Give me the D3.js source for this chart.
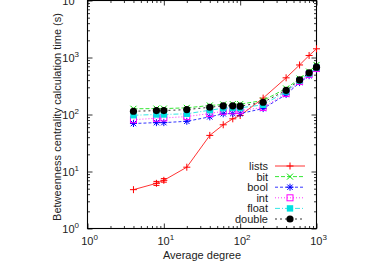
<!DOCTYPE html>
<html>
<head>
<meta charset="utf-8">
<script src="https://cdn.jsdelivr.net/npm/d3@7"></script>
<style>
  body { margin: 0; background: #fff; }
  svg { display: block; font-family: "Liberation Sans", Arial, sans-serif; }
</style>
</head>
<body>
<svg id="chart" width="374" height="262"></svg>
<script>
const degrees = [4, 8, 10, 20, 40, 60, 80, 100, 200, 400, 600, 800, 1000];

const lists  = [4.8, 6.2, 7.0, 11.9, 43, 66, 84, 96, 194, 440, 740, 1085, 1420];
const listsErr = [0, 0.5, 0.5, 0, 0, 0, 0, 0, 0, 0, 0, 0, 0];
const bit    = [126, 127, 127, 131, 144, 150, 152, 152, 176, 286, 426, 565, 740];
const bool   = [69.5, 72, 72, 76, 91, 103, 104, 104, 127, 224, 363, 480, 628];
const intV   = [81, 86, 87, 92, 104, 114, 116, 117, 133, 234, 380, 505, 645];
const floatV = [97, 100, 100, 103, 119, 129, 131, 131, 148, 253, 395, 525, 668];
const double = [114, 117, 117, 122, 134, 142, 142, 140, 164, 265, 405, 540, 676];

const seriesNames = ["lists", "bit", "bool", "int", "float", "double"];
const seriesValues = [lists, bit, bool, intV, floatV, double];
const seriesColors = ["#ff0000", "#00e000", "#0000ff", "#ff00ff", "#00e0e0", "#000000"];
const seriesDash = [null, "4,2", "3,2", "1,2", "5,2,1,2", "2,3"];
const seriesMarker = ["plus", "cross", "star", "openSquare", "square", "circle"];

const xTickExp = [0, 1, 2, 3];
const yTickExp = [0, 1, 2, 3, 4];

const svg = d3.select("#chart");
const pLeft = 87.5, pRight = 316.5, pTop = 0.5, pBottom = 228.5;

const x = d3.scaleLog().domain([1, 1000]).range([pLeft, pRight]);
const y = d3.scaleLog().domain([1, 10000]).range([pBottom, pTop]);

function minors(domain) {
  const out = [];
  for (let e = Math.log10(domain[0]); e < Math.log10(domain[1]); e++)
    for (let k = 2; k <= 9; k++) out.push(k * Math.pow(10, e));
  return out;
}

function styleAxis(g) {
  g.select(".domain").remove();
  g.selectAll("line").attr("stroke", "#000").attr("stroke-width", 0.8);
}

// major + minor ticks on all four sides, pointing inward
const xMajor = xTickExp.map((e) => Math.pow(10, e));
const yMajor = yTickExp.map((e) => Math.pow(10, e));

svg.append("g").attr("transform", `translate(0,${pBottom})`)
  .call(d3.axisBottom(x).tickValues(xMajor).tickSize(-5).tickFormat(""))
  .call(styleAxis);
svg.append("g").attr("transform", `translate(0,${pBottom})`)
  .call(d3.axisBottom(x).tickValues(minors(x.domain())).tickSize(-2.5).tickFormat(""))
  .call(styleAxis);
svg.append("g").attr("transform", `translate(0,${pTop})`)
  .call(d3.axisTop(x).tickValues(xMajor).tickSize(-5).tickFormat(""))
  .call(styleAxis);
svg.append("g").attr("transform", `translate(0,${pTop})`)
  .call(d3.axisTop(x).tickValues(minors(x.domain())).tickSize(-2.5).tickFormat(""))
  .call(styleAxis);
svg.append("g").attr("transform", `translate(${pLeft},0)`)
  .call(d3.axisLeft(y).tickValues(yMajor).tickSize(-5).tickFormat(""))
  .call(styleAxis);
svg.append("g").attr("transform", `translate(${pLeft},0)`)
  .call(d3.axisLeft(y).tickValues(minors(y.domain())).tickSize(-2.5).tickFormat(""))
  .call(styleAxis);
svg.append("g").attr("transform", `translate(${pRight},0)`)
  .call(d3.axisRight(y).tickValues(yMajor).tickSize(-5).tickFormat(""))
  .call(styleAxis);
svg.append("g").attr("transform", `translate(${pRight},0)`)
  .call(d3.axisRight(y).tickValues(minors(y.domain())).tickSize(-2.5).tickFormat(""))
  .call(styleAxis);

// frame
svg.append("rect")
  .attr("x", pLeft).attr("y", pTop)
  .attr("width", pRight - pLeft).attr("height", pBottom - pTop)
  .attr("fill", "none").attr("stroke", "#000").attr("stroke-width", 1.1);

// tick labels with superscripts
function powLabel(sel, e) {
  sel.append("tspan").text("10");
  sel.append("tspan").attr("font-size", 8).attr("dy", -5).text(e);
}

svg.append("g").selectAll("text").data(xTickExp).join("text")
  .attr("x", (e) => x(Math.pow(10, e)) + 2)
  .attr("y", 245)
  .attr("text-anchor", "middle")
  .attr("font-size", 11)
  .attr("fill", "#222")
  .each(function (e) { powLabel(d3.select(this), e); });

svg.append("g").selectAll("text").data(yTickExp).join("text")
  .attr("x", 79)
  .attr("y", (e) => y(Math.pow(10, e)) + 4)
  .attr("text-anchor", "end")
  .attr("font-size", 11)
  .attr("fill", "#222")
  .each(function (e) { powLabel(d3.select(this), e); });

// axis titles
svg.append("text")
  .attr("x", 202).attr("y", 259)
  .attr("text-anchor", "middle")
  .attr("font-size", 11).attr("fill", "#222")
  .text("Average degree");

svg.append("text")
  .attr("transform", "translate(61,117) rotate(-90)")
  .attr("text-anchor", "middle")
  .attr("font-size", 11).attr("fill", "#222")
  .text("Betweenness centrality calculation time (s)");

// markers
function drawMarker(g, type, color) {
  if (type === "plus") {
    g.append("path").attr("d", "M-3.5,0H3.5M0,-3.5V3.5")
      .attr("stroke", color).attr("stroke-width", 1).attr("fill", "none");
  } else if (type === "cross") {
    g.append("path").attr("d", "M-3,-3L3,3M-3,3L3,-3")
      .attr("stroke", color).attr("stroke-width", 1).attr("fill", "none");
  } else if (type === "star") {
    g.append("path").attr("d", "M-3.5,0H3.5M0,-3.5V3.5M-2.7,-2.7L2.7,2.7M-2.7,2.7L2.7,-2.7")
      .attr("stroke", color).attr("stroke-width", 1).attr("fill", "none");
  } else if (type === "openSquare") {
    g.append("rect").attr("x", -3).attr("y", -3).attr("width", 6).attr("height", 6)
      .attr("stroke", color).attr("stroke-width", 1).attr("fill", "none");
  } else if (type === "square") {
    g.append("rect").attr("x", -3.2).attr("y", -3.2).attr("width", 6.4).attr("height", 6.4)
      .attr("fill", color);
  } else if (type === "circle") {
    g.append("circle").attr("r", 3.6).attr("fill", color);
  }
}

const line = d3.line().x((d) => x(d[0])).y((d) => y(d[1]));

seriesNames.forEach((name, i) => {
  const pts = degrees.map((d, j) => [d, seriesValues[i][j]]);
  const g = svg.append("g");
  g.append("path")
    .datum(pts)
    .attr("d", line)
    .attr("fill", "none")
    .attr("stroke", seriesColors[i])
    .attr("stroke-width", 0.8)
    .attr("stroke-dasharray", seriesDash[i]);
  if (name === "lists") {
    pts.forEach((p, j) => {
      const e = listsErr[j];
      if (!e) return;
      const px = x(p[0]), y0 = y(p[1] - e), y1 = y(p[1] + e);
      g.append("path")
        .attr("d", `M${px},${y0}V${y1}M${px - 3},${y0}H${px + 3}M${px - 3},${y1}H${px + 3}`)
        .attr("stroke", seriesColors[i]).attr("stroke-width", 1).attr("fill", "none");
    });
  }
  pts.forEach((p) => {
    const m = g.append("g").attr("transform", `translate(${x(p[0])},${y(p[1])})`);
    drawMarker(m, seriesMarker[i], seriesColors[i]);
  });
});

// legend
const legend = svg.append("g");
seriesNames.forEach((name, i) => {
  const ly = 166 + i * 10.6;
  legend.append("text")
    .attr("x", 268).attr("y", ly + 4)
    .attr("text-anchor", "end")
    .attr("font-size", 11).attr("fill", "#222")
    .text(name);
  legend.append("line")
    .attr("x1", 275).attr("x2", 305).attr("y1", ly).attr("y2", ly)
    .attr("stroke", seriesColors[i]).attr("stroke-width", 0.8)
    .attr("stroke-dasharray", seriesDash[i]);
  const m = legend.append("g").attr("transform", `translate(290,${ly})`);
  drawMarker(m, seriesMarker[i], seriesColors[i]);
});
</script>
</body>
</html>
